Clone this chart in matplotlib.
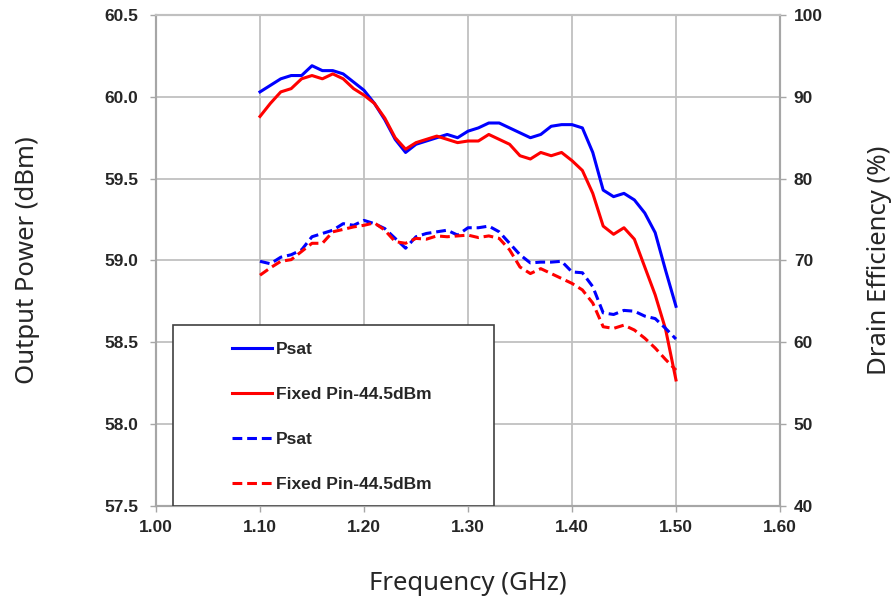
import matplotlib
matplotlib.use("Agg")
import matplotlib.pyplot as plt
from matplotlib.patches import Rectangle
import numpy as np

# frequency points (GHz)
freq = [1.10, 1.11, 1.12, 1.13, 1.14, 1.15, 1.16, 1.17, 1.18, 1.19,
        1.20, 1.21, 1.22, 1.23, 1.24, 1.25, 1.26, 1.27, 1.28, 1.29,
        1.30, 1.31, 1.32, 1.33, 1.34, 1.35, 1.36, 1.37, 1.38, 1.39,
        1.40, 1.41, 1.42, 1.43, 1.44, 1.45, 1.46, 1.47, 1.48, 1.49, 1.50]

# output power (dBm)
pout_psat = [60.03, 60.07, 60.11, 60.13, 60.13, 60.19, 60.16, 60.16, 60.14, 60.09,
             60.04, 59.96, 59.86, 59.74, 59.66, 59.71, 59.73, 59.75, 59.77, 59.75,
             59.79, 59.81, 59.84, 59.84, 59.81, 59.78, 59.75, 59.77, 59.82, 59.83,
             59.83, 59.81, 59.66, 59.43, 59.39, 59.41, 59.37, 59.29, 59.17, 58.94, 58.72]
pout_fixed = [59.88, 59.96, 60.03, 60.05, 60.11, 60.13, 60.11, 60.14, 60.11, 60.05,
              60.01, 59.96, 59.87, 59.75, 59.68, 59.72, 59.74, 59.76, 59.74, 59.72,
              59.73, 59.73, 59.77, 59.74, 59.71, 59.64, 59.62, 59.66, 59.64, 59.66,
              59.61, 59.55, 59.41, 59.21, 59.16, 59.20, 59.13, 58.96, 58.79, 58.58, 58.27]

# drain efficiency (%)
eff_psat = [69.9, 69.6, 70.4, 70.7, 71.3, 72.9, 73.3, 73.7, 74.5, 74.3,
            74.9, 74.5, 73.9, 72.7, 71.5, 72.9, 73.3, 73.5, 73.7, 73.1,
            74.0, 74.0, 74.2, 73.5, 72.1, 70.7, 69.7, 69.8, 69.8, 69.9,
            68.6, 68.5, 66.8, 63.6, 63.4, 63.9, 63.8, 63.2, 62.9, 61.7, 60.4]
eff_fixed = [68.2, 69.1, 69.9, 70.1, 71.1, 72.1, 72.1, 73.5, 73.8, 74.1,
             74.3, 74.6, 73.7, 72.3, 72.1, 72.7, 72.6, 73.0, 72.9, 73.0,
             73.1, 72.8, 73.0, 72.7, 71.3, 69.2, 68.4, 69.0, 68.4, 67.8,
             67.2, 66.4, 64.8, 61.9, 61.7, 62.1, 61.5, 60.5, 59.3, 57.9, 56.6]

labels = ["Psat", "Fixed Pin-44.5dBm", "Psat", "Fixed Pin-44.5dBm"]

spine_grey = "#a6a6a6"
grid_grey = "#c0c0c0"
text_dark = "#262626"
tick_font = {"family": "Liberation Sans", "weight": "bold", "size": 12.5}

fig = plt.figure(figsize=(8.96, 6.04), dpi=100)
ax = fig.add_axes([0.1741, 0.1623, 0.6964, 0.8129])
ax2 = ax.twinx()

l1, = ax.plot(freq, pout_psat, color="#0000ff", lw=2.2)
l2, = ax.plot(freq, pout_fixed, color="#ff0000", lw=2.2)
l3, = ax2.plot(freq, eff_psat, color="#0000ff", lw=2.2, dashes=(3.2, 1.6))
l4, = ax2.plot(freq, eff_fixed, color="#ff0000", lw=2.2, dashes=(3.2, 1.6))

ax.set_xlim(1.0, 1.6)
ax.set_ylim(57.5, 60.5)
ax2.set_ylim(40, 100)
ax.set_xticks(np.arange(1.0, 1.61, 0.1))
ax.set_yticks(np.arange(57.5, 60.51, 0.5))
ax2.set_yticks(np.arange(40, 101, 10))
ax.set_xticklabels([f"{v:.2f}" for v in np.arange(1.0, 1.61, 0.1)], fontdict=tick_font, color=text_dark)
ax.set_yticklabels([f"{v:.1f}" for v in np.arange(57.5, 60.51, 0.5)], fontdict=tick_font, color=text_dark)
ax2.set_yticklabels([f"{v:d}" for v in range(40, 101, 10)], fontdict=tick_font, color=text_dark)

ax.grid(True, color=grid_grey, lw=1.3)
ax.set_axisbelow(True)
for a in (ax, ax2):
    for s in a.spines.values():
        s.set_color(spine_grey)
        s.set_linewidth(1.5)
    a.tick_params(direction="out", length=4, width=1, color=spine_grey, pad=6)
ax.tick_params(axis="y", pad=9)
ax.spines["top"].set_color(grid_grey)
ax2.spines["top"].set_color(grid_grey)

label_font = {"family": "Noto Sans", "size": 18.5, "color": text_dark}
ax.set_xlabel("Frequency (GHz)", fontdict=label_font, labelpad=26)
ax.set_ylabel("Output Power (dBm)", fontdict=label_font, labelpad=46)
ax2.set_ylabel("Drain Efficiency (%)", fontdict=label_font, labelpad=32)

# legend box
ax2.add_patch(Rectangle((0.027, 0.0), 0.515, 0.369, transform=ax2.transAxes,
                        facecolor="white", edgecolor="#404040", lw=1.2, zorder=5))
leg = ax2.legend([l1, l2, l3, l4], labels, loc="center left",
                 bbox_to_anchor=(0.108, 0.181), frameon=False, borderpad=0,
                 handlelength=2.3, handletextpad=0.25, labelspacing=1.72,
                 prop={"family": "Liberation Sans", "weight": "bold", "size": 12.5})
leg.set_zorder(6)
for t in leg.get_texts():
    t.set_color(text_dark)

fig.savefig("out.png", dpi=100)
